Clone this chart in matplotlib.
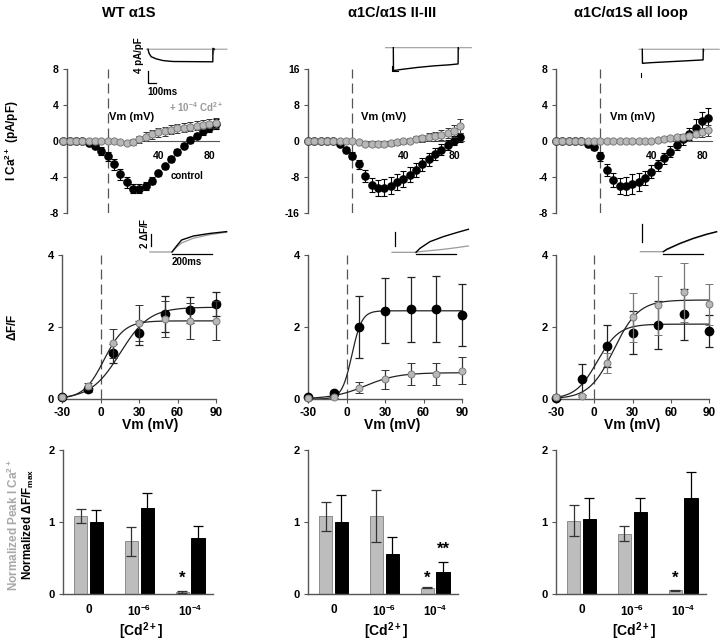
import numpy as np
import matplotlib.pyplot as plt

plt.rcParams['font.family'] = ['Liberation Sans', 'DejaVu Sans']
plt.rcParams['font.weight'] = 'bold'
plt.rcParams['mathtext.fontset'] = 'custom'
plt.rcParams['mathtext.rm'] = 'Liberation Sans:bold'
plt.rcParams['mathtext.bf'] = 'Liberation Sans:bold'
plt.rcParams['mathtext.default'] = 'bf'
plt.rcParams['axes.unicode_minus'] = False

W, H = 720, 643
GRAY = '#b8b8b8'
GRAY_EDGE = '#7a7a7a'
SPINE = '#555555'

titles = ['WT α1S', 'α1C/α1S II-III', 'α1C/α1S all loop']

# ---------------- top row: I-V curves ----------------
iv_v = [-35, -30, -25, -20, -15, -10, -5, 0, 5, 10, 15, 20, 25,
        30, 35, 40, 45, 50, 55, 60, 65, 70, 75, 80, 85]

iv_ctrl_wt = [0, 0, 0, -0.05, -0.2, -0.55, -1.1, -1.7, -2.6, -3.7, -4.6, -5.3, -5.3,
              -5.0, -4.4, -3.6, -2.8, -2.0, -1.2, -0.5, 0.1, 0.6, 1.1, 1.5, 1.9]
iv_ctrl_wt_err = [0, 0, 0, 0.05, 0.1, 0.2, 0.4, 0.5, 0.6, 0.6, 0.6, 0.5, 0.5,
                  0.4, 0.4, 0.3, 0.3, 0.3, 0.3, 0.3, 0.3, 0.3, 0.4, 0.5, 0.6]
iv_cd_wt = [0, 0, 0, 0, 0, 0, 0, 0, 0, -0.1, -0.2, -0.1, 0.2,
            0.5, 0.75, 0.95, 1.1, 1.25, 1.4, 1.5, 1.6, 1.7, 1.8, 1.9, 2.0]
iv_cd_wt_err = [0, 0, 0, 0, 0, 0, 0, 0, 0.05, 0.1, 0.2, 0.3, 0.4,
                0.45, 0.5, 0.5, 0.5, 0.5, 0.5, 0.5, 0.5, 0.5, 0.5, 0.5, 0.6]

iv_ctrl_23 = [0, 0, 0, 0, -0.1, -0.6, -2.0, -3.3, -5.2, -7.7, -9.8, -10.5, -10.4,
              -9.9, -9.1, -8.4, -7.5, -6.4, -5.2, -4.1, -2.9, -1.9, -0.9, 0.1, 0.8]
iv_ctrl_23_err = [0, 0, 0, 0, 0.1, 0.3, 0.6, 0.8, 1.0, 1.3, 1.6, 1.8, 1.9,
                  1.9, 1.8, 1.8, 1.7, 1.6, 1.5, 1.4, 1.3, 1.2, 1.1, 1.0, 1.0]
iv_cd_23 = [0, 0, 0, 0, 0, 0, 0, 0, -0.3, -0.6, -0.7, -0.7, -0.6,
            -0.5, -0.3, -0.1, 0.1, 0.4, 0.6, 0.9, 1.1, 1.4, 1.8, 2.3, 3.3]
iv_cd_23_err = [0, 0, 0, 0, 0, 0, 0, 0.1, 0.2, 0.3, 0.4, 0.4, 0.5,
                0.5, 0.5, 0.6, 0.6, 0.7, 0.8, 0.9, 1.0, 1.1, 1.2, 1.3, 1.5]

iv_ctrl_al = [0, 0, 0, 0, -0.05, -0.3, -0.7, -1.7, -3.2, -4.3, -5.0, -5.0, -4.8,
              -4.6, -4.1, -3.4, -2.7, -1.9, -1.2, -0.4, 0.2, 0.8, 1.5, 2.2, 2.6]
iv_ctrl_al_err = [0, 0, 0, 0, 0.05, 0.2, 0.3, 0.5, 0.7, 0.8, 0.9, 1.0, 1.1,
                  1.0, 0.8, 0.7, 0.6, 0.6, 0.6, 0.6, 0.6, 0.7, 0.9, 1.0, 1.1]
iv_cd_al = [0, 0, 0, 0, 0, 0, 0, 0, 0, 0, 0, 0, 0,
            0, 0, 0.05, 0.1, 0.2, 0.3, 0.4, 0.5, 0.6, 0.8, 1.0, 1.2]
iv_cd_al_err = [0, 0, 0, 0, 0, 0, 0, 0, 0, 0, 0, 0, 0,
                0.05, 0.05, 0.1, 0.1, 0.15, 0.2, 0.2, 0.3, 0.3, 0.4, 0.5, 0.6]

iv_ylim = [8, 16, 8]
iv_xleft = [-32, -35, -35]

# ---------------- middle row: dF/F vs Vm ----------------
f_v = [-30, -10, 10, 30, 50, 70, 90]
f_ctrl = [[0.05, 0.27, 1.27, 1.84, 2.36, 2.47, 2.64],
          [0.05, 0.18, 2.01, 2.45, 2.49, 2.49, 2.33],
          [0.04, 0.55, 1.48, 1.84, 2.06, 2.35, 1.89]]
f_ctrl_err = [[0.02, 0.08, 0.27, 0.33, 0.5, 0.35, 0.34],
              [0.02, 0.05, 0.86, 0.9, 0.91, 0.92, 0.87],
              [0.02, 0.43, 0.58, 0.6, 0.66, 0.7, 0.44]]
f_cd = [[0.05, 0.37, 1.55, 2.12, 2.21, 2.18, 2.18],
        [0.02, 0.05, 0.31, 0.55, 0.69, 0.69, 0.79],
        [0.06, 0.08, 1.01, 2.27, 2.61, 2.96, 2.63]]
f_cd_err = [[0.02, 0.08, 0.4, 0.5, 0.5, 0.5, 0.54],
            [0.01, 0.02, 0.15, 0.26, 0.31, 0.3, 0.38],
            [0.02, 0.03, 0.28, 0.68, 0.82, 0.81, 0.57]]
# Boltzmann fit parameters (Fmax, V1/2, k)
fit_ctrl = [(2.55, 15.3, 11.4), (2.45, 4.2, 3.9), (2.08, 2.3, 8.5)]
fit_cd = [(2.17, 2.7, 7.9), (0.73, 14.6, 12.8), (2.75, 15.4, 9.7)]

# ---------------- bottom row: normalized bars ----------------
cd_labels = ['0', r'10$^{-6}$', r'10$^{-4}$']
bar_ica = [[1.08, 0.73, 0.03], [1.08, 1.08, 0.09], [1.02, 0.84, 0.05]]
bar_ica_err = [[0.10, 0.20, 0.01], [0.20, 0.36, 0.01], [0.22, 0.11, 0.01]]
bar_df = [[1.00, 1.19, 0.78], [1.00, 0.56, 0.30], [1.04, 1.14, 1.34]]
bar_df_err = [[0.17, 0.21, 0.17], [0.37, 0.23, 0.14], [0.29, 0.19, 0.35]]

# ---------------- inset traces ----------------
# current traces (ms, pA/pF)
ica_t_ctrl = [[0, 12, 40, 100, 190, 310, 810, 812, 830],
              [0, 2, 10, 100, 300, 500, 700, 810, 812],
              [0, 2, 10, 100, 300, 500, 760, 762]]
ica_i_ctrl = [[0, -1.3, -2.5, -3.2, -3.8, -4.1, -4.2, 0.3, 0],
              [0, -10.5, -10.4, -9.9, -9.0, -8.3, -7.8, -7.4, 0],
              [0, -5.0, -5.0, -4.8, -4.5, -4.2, -3.8, 0]]
ica_t_cd = [[-20, 810, 812, 830, 985], [-100, 812, 815, 830, 980], [-40, 762, 765, 780, 960]]
ica_i_cd = [[0, 0, -1.8, 0, 0], [0, 0, -1.0, 0, 0], [0, 0, -0.8, 0, 0]]
ica_ylim = [(-13.6, 4.4), (-13.8, 3.5), (-10.25, 3.3)]
ica_xlim = [(-100, 1050), (-104, 984), (-91, 971)]
ica_box = [(140, 36, 232, 90), (385, 40, 472, 78), (635, 40, 720, 78)]

# fluorescence traces (ms, dF/F)
fl_t = [[-110, 0, 23, 48, 107, 190, 273],
        [-120, 0, 20, 70, 137, 203, 262],
        [-115, 0, 17, 83, 150, 217, 267]]
fl_ctrl = [[0, 0, 1.0, 2.0, 2.67, 3.1, 3.4],
           [0, 0, 0.6, 1.6, 2.35, 2.95, 3.45],
           [0, 0, 0.26, 0.9, 1.45, 1.9, 2.17]]
fl_cd = [[0, 0, 0.8, 1.5, 2.3, 2.9, 3.3],
         [0, 0, 0.1, 0.25, 0.45, 0.7, 0.95],
         [0, 0, 0.2, 0.85, 1.4, 1.85, 2.15]]
fl_xlim = [(-160, 290), (-155, 280), (-142, 284)]
fl_ylim = [(-2.67, 5.67), (-1.45, 4.54), (-1.12, 3.66)]
fl_box = [(140, 218, 230, 268), (385, 222, 472, 262), (635, 218, 720, 262)]


def px_axes(fig, left, top, right, bottom):
    return fig.add_axes([left / W, 1 - bottom / H, (right - left) / W, (bottom - top) / H])


def ftext(fig, x, y, s, **kw):
    return fig.text(x / W, 1 - y / H, s, **kw)


def boltzmann(v, p):
    fmax, vh, k = p
    return fmax / (1 + np.exp((vh - v) / k))


def style_spines(ax):
    for side in ['top', 'right']:
        ax.spines[side].set_visible(False)
    for side in ['left', 'bottom']:
        ax.spines[side].set_color(SPINE)
        ax.spines[side].set_linewidth(1.0)
    ax.patch.set_alpha(0)


fig = plt.figure(figsize=(7.2, 6.43), dpi=100)

iv_ctrl = [iv_ctrl_wt, iv_ctrl_23, iv_ctrl_al]
iv_ctrl_err = [iv_ctrl_wt_err, iv_ctrl_23_err, iv_ctrl_al_err]
iv_cd = [iv_cd_wt, iv_cd_23, iv_cd_al]
iv_cd_err = [iv_cd_wt_err, iv_cd_23_err, iv_cd_al_err]

top_left = [67, 308, 556]
mid_left = [62, 308, 556]
mid_right = [216, 462, 709]
bot_left = [63, 308, 556]
title_x = [129, 392, 631]
vm_x = [132, 384, 633]
vm_mid_x = [150, 392, 632]

for i in range(3):
    # ---- top: I-V ----
    right = top_left[i] + (88 - iv_xleft[i]) * 1.27
    ax = px_axes(fig, top_left[i], 69, right, 213)
    style_spines(ax)
    ax.set_xlim(iv_xleft[i], 88)
    ax.set_ylim(-iv_ylim[i], iv_ylim[i])
    ax.spines['bottom'].set_position(('data', 0))
    ax.spines['bottom'].set_linewidth(0.8)
    ax.set_xticks([40, 80])
    ax.tick_params(axis='x', length=0, pad=7, labelsize=7.5)
    yt = iv_ylim[i]
    ax.set_yticks([-yt, -yt / 2, 0, yt / 2, yt])
    ax.set_yticklabels([f'{int(t)}' for t in [-yt, -yt / 2, 0, yt / 2, yt]])
    ax.tick_params(axis='y', length=3, width=0.8, color=SPINE, labelsize=7.5, pad=3)
    ax.axvline(0, color='#555555', lw=0.9, ls=(0, (8, 4)), zorder=1)
    ax.errorbar(iv_v, iv_ctrl[i], yerr=iv_ctrl_err[i], fmt='o', color='black',
                ms=5.2, mec='black', ecolor='black', elinewidth=0.8, capsize=2.2,
                capthick=0.8, clip_on=False, zorder=3)
    ax.errorbar(iv_v, iv_cd[i], yerr=iv_cd_err[i], fmt='o', color=GRAY,
                ms=5.2, mec=GRAY_EDGE, mew=0.7, ecolor='#333333', elinewidth=0.8,
                capsize=2.2, capthick=0.8, clip_on=False, zorder=4)
    ftext(fig, vm_x[i], 117, 'Vm (mV)', fontsize=8, ha='center', va='center')
    ftext(fig, title_x[i], 13, titles[i], fontsize=10.5, ha='center', va='center')

    # ---- middle: dF/F ----
    ax = px_axes(fig, mid_left[i], 255, mid_right[i], 399)
    style_spines(ax)
    ax.set_xlim(-30, 90)
    ax.set_ylim(0, 4)
    ax.set_xticks([-30, 0, 30, 60, 90])
    ax.set_yticks([0, 2, 4])
    ax.tick_params(axis='x', length=3, width=0.8, color=SPINE, labelsize=8.5, pad=3)
    ax.tick_params(axis='y', length=3, width=0.8, color=SPINE, labelsize=8, pad=3)
    ax.axvline(0, color='#555555', lw=0.9, ls=(0, (8, 4)), zorder=1)
    vv = np.linspace(-30, 90, 200)
    ax.plot(vv, boltzmann(vv, fit_ctrl[i]), color='#222222', lw=0.9, zorder=2)
    ax.plot(vv, boltzmann(vv, fit_cd[i]), color='#222222', lw=0.9, zorder=2)
    ax.errorbar(f_v, f_ctrl[i], yerr=f_ctrl_err[i], fmt='o', color='black', ms=6,
                ecolor='#222222', elinewidth=0.9, capsize=3, capthick=0.9,
                clip_on=False, zorder=3)
    ax.errorbar(f_v, f_cd[i], yerr=f_cd_err[i], fmt='o', color=GRAY, ms=5,
                mec=GRAY_EDGE, mew=0.7, ecolor='#777777' if i == 2 else '#333333',
                elinewidth=0.9, capsize=3, capthick=0.9, clip_on=False, zorder=4)
    ftext(fig, vm_mid_x[i], 425, 'Vm (mV)', fontsize=10, ha='center', va='center')

    # ---- bottom: bars ----
    ax = px_axes(fig, bot_left[i], 450, bot_left[i] + 150, 594)
    style_spines(ax)
    ax.set_xlim(-0.5, 2.45)
    ax.set_ylim(0, 2)
    x = np.arange(3)
    ax.bar(x - 0.155, bar_ica[i], width=0.26, color='#bdbdbd', edgecolor='#8c8c8c',
           lw=0.7, zorder=2)
    ax.bar(x + 0.155, bar_df[i], width=0.26, color='black', edgecolor='black',
           lw=0.7, zorder=2)
    ax.errorbar(x - 0.155, bar_ica[i], yerr=bar_ica_err[i], fmt='none', ecolor='#333333',
                elinewidth=0.9, capsize=3.5, capthick=0.9, zorder=3)
    ax.errorbar(x + 0.155, bar_df[i], yerr=bar_df_err[i], fmt='none', ecolor='black',
                elinewidth=0.9, capsize=3.5, capthick=0.9, zorder=3)
    ax.text(2 - 0.155, 0.22, '*', ha='center', va='center', fontsize=12)
    if i == 1:
        ax.text(2 + 0.155, 0.62, '**', ha='center', va='center', fontsize=12)
    ax.set_xticks(x)
    ax.set_xticklabels(cd_labels)
    ax.set_yticks([0, 1, 2])
    ax.tick_params(axis='x', length=0, labelsize=8.5, pad=7)
    ax.tick_params(axis='y', length=3, width=0.8, color=SPINE, labelsize=8, pad=3)
    ftext(fig, bot_left[i] + 78, 631, r'[Cd$^{2+}$]', fontsize=10, ha='center', va='center')

    # ---- inset: current traces ----
    l, t, r, b = ica_box[i]
    ia = px_axes(fig, l, t, r, b)
    ia.axis('off')
    ia.set_xlim(*ica_xlim[i])
    ia.set_ylim(*ica_ylim[i])
    ia.plot(ica_t_cd[i], ica_i_cd[i], color='#9a9a9a', lw=0.8)
    ia.plot(ica_t_ctrl[i], ica_i_ctrl[i], color='black', lw=1.0)
    if i == 0:
        ia.plot([0, 0, 100], [-7.4, -11.4, -11.4], color='black', lw=0.9)
        ia.text(-110, -1.9, '4 pA/pF', rotation=90, fontsize=7, ha='center', va='center')
        ia.text(175, -12.6, '100ms', fontsize=7, ha='center', va='top')
    else:
        ia.plot([-20, -20, 60], [-8.5, -10.8, -10.8], color='black', lw=0.8)

    # ---- inset: fluorescence traces ----
    l, t, r, b = fl_box[i]
    fa = px_axes(fig, l, t, r, b)
    fa.axis('off')
    fa.set_xlim(*fl_xlim[i])
    fa.set_ylim(*fl_ylim[i])
    fa.plot(fl_t[i], fl_cd[i], color='#9a9a9a', lw=0.9)
    fa.plot(fl_t[i][1:], fl_ctrl[i][1:], color='black', lw=1.0)
    bar_y = -0.3
    fa.plot([0, 200], [bar_y, bar_y], color='black', lw=0.9)
    fa.plot([-105, -105], [1.0, 3.0], color='black', lw=0.9)
    if i == 0:
        fa.text(-140, 3.1, r'2 $\Delta$F/F', rotation=90, fontsize=7, ha='center', va='center')
        fa.text(0, -0.85, '200ms', fontsize=7, ha='left', va='top')

ftext(fig, 196, 107, r'+ 10$^{-4}$ Cd$^{2+}$', fontsize=7, color='#999999',
      ha='center', va='center')
ftext(fig, 187, 176, 'control', fontsize=7, ha='center', va='center')

ftext(fig, 12, 141, r'I Ca$^{2+}$ (pA/pF)', fontsize=8.5, rotation=90,
      ha='center', va='center')
ftext(fig, 12, 327, r'$\Delta$F/F', fontsize=8.5, rotation=90, ha='center', va='center')
ftext(fig, 13, 525, r'Normalized Peak I Ca$^{2+}$', fontsize=8.5, rotation=90,
      color='#a8a8a8', ha='center', va='center')
ftext(fig, 28, 524, r'Normalized $\Delta$F/F$_{max}$', fontsize=8.5, rotation=90,
      ha='center', va='center')

fig.savefig('out.png', dpi=100)
